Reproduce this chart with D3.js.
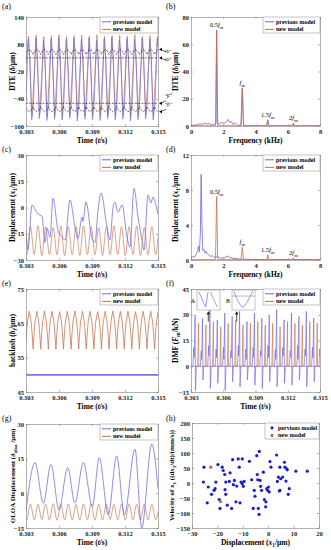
<!DOCTYPE html>
<html>
<head>
<meta charset="utf-8">
<script src="https://cdn.jsdelivr.net/npm/d3@7/dist/d3.min.js"></script>
<style>
body{margin:0;background:#fff;}
</style>
</head>
<body>
<svg id="fig" width="331" height="550"><defs></defs></svg>
<script>
'use strict';

//---- tick values
var timeTicks = [0.303,0.306,0.309,0.312,0.315];
var freqTicks = [0,2,4,6,8];
var dteTicks = [-100,-40,20,80,140];
var dteAmpTicks = [0,20,40,60,80];
var dispTicks = [-30,-15,0,15,30];
var dispAmpTicks = [0,4,8,12];
var backlashTicks = [45,55,65,75];
var dmfTicks = [-15,0,15,30,45];
var oloaTicks = [-15,0,15,30];
var phaseXTicks = [-30,-20,-10,0,10,20];
var phaseYTicks = [-150,-100,-50,0,50,100,150,200];
var seriesNames = ['previous model','new model'];

//---- harmonic labels (b) and (d)
var harmonicF = [1.59,3.18,4.76,6.35];
var harmonicPre = ['0.5','','1.5','2'];
var harmonicB = [70.5,28,4.6,2.2];
var harmonicD = [7.25,1.45,0.6,0.27];

//---- (a) DTE, time domain
var timeDtePrev = [0.30300,
 0.30320,0.30335,0.30352,0.30368, 0.30389,0.30404,0.30421,0.30437,
 0.30458,0.30473,0.30490,0.30506, 0.30527,0.30542,0.30559,0.30575,
 0.30596,0.30611,0.30628,0.30644, 0.30665,0.30680,0.30697,0.30713,
 0.30734,0.30749,0.30766,0.30782, 0.30803,0.30818,0.30835,0.30851,
 0.30872,0.30887,0.30904,0.30920, 0.30941,0.30956,0.30973,0.30989,
 0.31010,0.31025,0.31042,0.31058, 0.31079,0.31094,0.31111,0.31127,
 0.31148,0.31163,0.31180,0.31196, 0.31217,0.31232,0.31249,0.31265,
 0.31286,0.31301,0.31318,0.31334, 0.31355,0.31370,0.31387,0.31403,
 0.31424,0.31439,0.31456,0.31472, 0.31493,0.31500];
var dtePrev = [-43,
 91,53,-86,-50, 94,51,-84,-49, 89,52,-88,-51, 92,54,-85,-50,
 95,52,-87,-48, 90,50,-83,-50, 93,53,-89,-51, 91,52,-85,-49,
 94,51,-86,-50, 89,53,-88,-52, 92,52,-84,-50, 95,50,-87,-49,
 90,54,-85,-51, 93,52,-89,-50, 91,51,-86,-48, 94,53,-84,-50,
 92,52,-87,-51, 93,75];
var timeDteNew = [0.30300,
 0.30324,0.30354, 0.30393,0.30423, 0.30462,0.30492, 0.30531,0.30561,
 0.30600,0.30630, 0.30669,0.30699, 0.30738,0.30768, 0.30807,0.30837,
 0.30876,0.30906, 0.30945,0.30975, 0.31014,0.31044, 0.31083,0.31113,
 0.31152,0.31182, 0.31221,0.31251, 0.31290,0.31320, 0.31359,0.31389,
 0.31428,0.31458, 0.31497,0.31500];
var dteNew = [37,
 98,-78, 100,-77, 97,-80, 99,-78, 101,-79, 97,-76, 99,-80, 100,-78,
 98,-77, 101,-79, 97,-78, 99,-80, 100,-77, 98,-79, 101,-78, 97,-76,
 99,-80, 98,90];

//---- (e) backlash (also dashed bounds in (a))
var timeBacklash = [0.30300,0.30304,0.30313,0.30330,0.30347,0.30356,0.30365,
 0.30373,0.30382,0.30399,0.30416,0.30425,0.30434,
 0.30442,0.30451,0.30468,0.30485,0.30494,0.30503,
 0.30511,0.30520,0.30537,0.30554,0.30563,0.30572,
 0.30580,0.30589,0.30606,0.30623,0.30632,0.30641,
 0.30649,0.30658,0.30675,0.30692,0.30701,0.30710,
 0.30718,0.30727,0.30744,0.30761,0.30770,0.30779,
 0.30787,0.30796,0.30813,0.30830,0.30839,0.30848,
 0.30856,0.30865,0.30882,0.30899,0.30908,0.30917,
 0.30925,0.30934,0.30951,0.30968,0.30977,0.30986,
 0.30994,0.31003,0.31020,0.31037,0.31046,0.31055,
 0.31063,0.31072,0.31089,0.31106,0.31115,0.31124,
 0.31132,0.31141,0.31158,0.31175,0.31184,0.31193,
 0.31201,0.31210,0.31227,0.31244,0.31253,0.31262,
 0.31270,0.31279,0.31296,0.31313,0.31322,0.31331,
 0.31339,0.31348,0.31365,0.31382,0.31391,0.31400,
 0.31408,0.31417,0.31434,0.31451,0.31460,0.31469,
 0.31477,0.31486,0.31500];
var backlashNew = [59.7,61.9,65.4,68.5,65.4,61.9,57.5,
 61.9,65.4,68.5,65.4,61.9,57.5,
 61.9,65.4,68.6,65.4,61.9,57.5,
 61.9,65.4,68.5,65.4,61.9,57.5,
 61.9,65.4,68.4,65.4,61.9,57.5,
 61.9,65.4,68.5,65.4,61.9,57.5,
 61.9,65.4,68.6,65.4,61.9,57.5,
 61.9,65.4,68.5,65.4,61.9,57.5,
 61.9,65.4,68.5,65.4,61.9,57.5,
 61.9,65.4,68.4,65.4,61.9,57.5,
 61.9,65.4,68.5,65.4,61.9,57.5,
 61.9,65.4,68.6,65.4,61.9,57.5,
 61.9,65.4,68.5,65.4,61.9,57.5,
 61.9,65.4,68.5,65.4,61.9,57.5,
 61.9,65.4,68.4,65.4,61.9,57.5,
 61.9,65.4,68.5,65.4,61.9,57.5,
 61.9,65.4,68.5,65.4,61.9,57.5,
 61.9,65.4,68.4];
var timeBacklashPrev = [0.303,0.315];
var backlashPrev = [50,50];

//---- (b) DTE spectrum
var freqBPrev = [0,0.2,0.4,0.55,0.7,0.85,1.0,1.15,1.3,1.45,1.55,1.59,1.63,1.75,1.9,2.05,2.2,2.3,
 2.4,2.5,2.6,2.75,2.9,3.1,3.18,3.26,3.5,4.0,4.7,4.76,4.82,5.5,6.3,6.35,6.4,8];
var ampBPrev = [0.3,0.6,0.9,1.6,1.2,2.2,1.4,1.8,0.8,1.0,2,70.5,2,1.5,2.6,1.8,3.2,4.8,
 2.6,3.4,1.2,2.2,0.6,0.4,27,0.4,0.3,0.2,0.2,4.2,0.2,0.1,0.1,1.8,0.1,0.1];
var freqBNew = [0,1.52,1.59,1.66,3.1,3.18,3.26,4.7,4.76,4.82,6.3,6.35,6.4,8];
var ampBNew = [0.2,0.2,69,0.2,0.2,28,0.2,0.2,4.6,0.2,0.2,2.2,0.2,0.2];

//---- (c) displacement x1
var timeDispPrev = [0.30300,0.30318,0.30355,0.30400,0.30427,0.30445,0.30473,0.30491,0.30518,0.30545,
 0.30591,0.30627,0.30655,0.30700,0.30745,0.30773,0.30809,0.30818,0.30845,0.30900,
 0.30927,0.30955,0.30982,0.31036,0.31064,0.31091,0.31109,0.31136,0.31173,0.31218,
 0.31245,0.31282,0.31318,0.31355,0.31373,0.31409,0.31436,0.31455,0.31491,0.31500];
var dispPrev = [-13,-24,1.4,-3,-4.3,-5,-20,-11.7,-17,5.4,
 -13,-16.8,-18.6,4.3,-11,-17.7,-5.4,-8,3.1,-17.7,
 -20,-1.4,8.3,-11,-18.6,0,3,-2.6,1.4,-16.8,
 -22.6,11,-5.4,-18.6,-24.3,7.1,2.6,6,-1.4,-4];
var timeMesh = [0.30300,0.30306,
 0.30340,0.30375, 0.30409,0.30444, 0.30478,0.30513, 0.30547,0.30582,
 0.30616,0.30651, 0.30685,0.30720, 0.30754,0.30789, 0.30823,0.30858,
 0.30892,0.30927, 0.30961,0.30996, 0.31030,0.31065, 0.31099,0.31134,
 0.31168,0.31203, 0.31237,0.31272, 0.31306,0.31341, 0.31375,0.31410,
 0.31444,0.31479, 0.31500];
var dispNew = [-26,-27,
 -11,-27, -10.5,-27.5, -11,-27, -11.5,-27, -10.5,-27.5, -11,-27, -11,-27.5, -10.5,-27,
 -11,-27, -11.5,-27.5, -11,-27, -10.5,-27, -11,-27.5, -11,-27, -10.5,-27.5, -11.5,-27,
 -11,-27, -17];

//---- (d) displacement spectrum
var freqDPrev = [0,0.1,0.2,0.3,0.4,0.47,0.52,0.58,0.63,0.68,0.73,0.8,0.86,0.92,1.0,1.1,1.2,1.3,1.45,1.6,
 1.75,1.9,2.1,2.25,2.4,2.6,3.0,4.0,8];
var ampDPrev = [0.3,0.4,0.3,0.6,1.0,1.6,0.9,3.0,9.8,4.0,1.1,1.2,0.8,1.0,0.7,0.6,0.4,0.5,0.3,0.4,
 0.3,0.2,0.3,0.45,0.3,0.2,0.1,0.05,0.05];
var freqDNew = [0,1.52,1.59,1.66,3.1,3.18,3.26,4.7,4.76,4.82,6.3,6.35,6.4,8];
var ampDNew = [0.05,0.05,7.25,0.05,0.05,1.45,0.05,0.05,0.6,0.05,0.05,0.27,0.05,0.05];

//---- (f) dynamic mesh force
var timeDmfPrev = [0.30300,
 0.30318,0.30326,0.30330,0.30338,0.30342,0.30350, 0.30387,0.30395,0.30399,0.30407,0.30411,0.30419,
 0.30456,0.30464,0.30468,0.30476,0.30480,0.30488, 0.30525,0.30533,0.30537,0.30545,0.30549,0.30557,
 0.30594,0.30602,0.30606,0.30614,0.30618,0.30626, 0.30663,0.30671,0.30675,0.30683,0.30687,0.30695,
 0.30732,0.30740,0.30744,0.30752,0.30756,0.30764, 0.30801,0.30809,0.30813,0.30821,0.30825,0.30833,
 0.30870,0.30878,0.30882,0.30890,0.30894,0.30902, 0.30939,0.30947,0.30951,0.30959,0.30963,0.30971,
 0.31008,0.31016,0.31020,0.31028,0.31032,0.31040, 0.31077,0.31085,0.31089,0.31097,0.31101,0.31109,
 0.31146,0.31154,0.31158,0.31166,0.31170,0.31178, 0.31215,0.31223,0.31227,0.31235,0.31239,0.31247,
 0.31284,0.31292,0.31296,0.31304,0.31308,0.31316, 0.31353,0.31361,0.31365,0.31373,0.31377,0.31385,
 0.31422,0.31430,0.31434,0.31442,0.31446,0.31454, 0.31491,0.31497,0.31500];
var dmfPrev = [0,
 0,11,5,30,-14,0, 0,9,4,28,-8,0,
 0,12,6,33,-13,0, 0,10,5,27,-10,0,
 0,11,4,31,-14,0, 0,9,5,29,-9,0,
 0,12,6,32,-12,0, 0,10,4,26,-8,0,
 0,11,5,31,-11,0, 0,9,6,28,-13,0,
 0,12,5,30,-9,0, 0,10,4,33,-12,0,
 0,11,6,27,-10,0, 0,9,5,31,-11,0,
 0,12,4,29,-8,0, 0,10,6,32,-12,0,
 0,11,5,28,-9,0, 0,10,6];
var timeDmfNew = [0.30300,
 0.30362,0.30370,0.30373, 0.30431,0.30439,0.30442, 0.30500,0.30508,0.30511,
 0.30569,0.30577,0.30580, 0.30638,0.30646,0.30649, 0.30707,0.30715,0.30718,
 0.30776,0.30784,0.30787, 0.30845,0.30853,0.30856, 0.30914,0.30922,0.30925,
 0.30983,0.30991,0.30994, 0.31052,0.31060,0.31063, 0.31121,0.31129,0.31132,
 0.31190,0.31198,0.31201, 0.31259,0.31267,0.31270, 0.31328,0.31336,0.31339,
 0.31397,0.31405,0.31408, 0.31466,0.31474,0.31477, 0.31500];
var dmfNew = [0,
 0,25,0, 0,24,0, 0,26,0, 0,23,0, 0,25,0, 0,27,0,
 0,24,0, 0,25,0, 0,26,0, 0,24,0, 0,25,0, 0,23,0,
 0,26,0, 0,25,0, 0,24,0, 0,26,0, 0,25,0, 0];
// zoomed insets A and B (normalised window units)
var insetAPrevX = [0.08,0.38,0.48], insetAPrevY = [0.95,0.1,0.95];
var insetANewX = [0.58,0.88], insetANewY = [0.95,0.1];
var insetBPrevX = [0.08,0.27,0.47,0.67,0.9], insetBPrevY = [0.98,0.42,0.1,0.42,1.0];
var insetBRefX = [0,1], insetBRefY = [0.72,0.72];
var insetTimes = [0.30461,0.30725];

//---- (g) OLOA displacement
var timeOloaPrev = [0.30300,0.30382,0.30457,0.30527,0.30600,0.30679,0.30745,0.30821,0.30903,
 0.30966,0.31048,0.31124,0.31194,0.31291,0.31352,0.31443,0.31500];
var oloaPrev = [-7.9,13.4,-4.2,12.5,-7.1,11.1,-4.2,13.3,-5.7,15.4,-9.3,16.2,-9.3,19.1,-14.9,21.3,2];
var oloaNew = [-11,-11.5,
 -4.6,-11.5, -4.8,-11.3, -4.6,-11.5, -4.5,-11.6, -4.7,-11.4, -4.6,-11.5, -4.8,-11.5, -4.6,-11.4,
 -4.5,-11.6, -4.7,-11.5, -4.6,-11.3, -4.8,-11.5, -4.6,-11.6, -4.5,-11.4, -4.7,-11.5, -4.6,-11.5,
 -4.8,-11.4, -8];

//---- (h) phase portrait
var phasePrevX = [-25.3,-25.5,-23.6,-24.0,-22.3,-21.3,-20.6,-20.9,-19.8,-19.0,-19.3,-18.1,-17.7,-17.1,-16.7,
 -17.0,-16.7,-16.1,-15.0,-15.3,-14.4,-14.0,-13.7,-13.3,-12.7,-12.4,-11.4,-11.8,-11.1,-10.7,
 -10.2,-9.8,-9.5,-10.2,-7.4,-6.5,-5.9,-5.5,-5.2,-4.5,-4.3,-4.1,-3.9,-3.5,-3.6,
 -3.2,-3.0,-2.6,-1.9,-1.5,-1.0,-0.9,-0.6,-0.2,0.1,0.4,0.7,1.1,3.3,3.6,
 4.0,4.4,4.6,4.9,5.7,6.4,6.6,7.3,7.0,7.5,7.9,4.6,8.3,10.9,15.4];
var phasePrevY = [52.6,3.1,-13.4,-66.2,-37.6,-24.4,3.1,-18.9,61.4,-84.9,-55,52.6,41.6,28.4,3.1,
 -22.2,-37.6,-73.9,33.9,5.3,-84.9,77.9,-5.7,8.6,-62.9,-10.1,52.6,80.1,-66.2,3.1,
 -2.4,-11.2,5.3,80.1,72.4,10.8,-84.9,-24.4,-44.2,91.1,28.4,10.8,-84.9,105.4,-104.7,
 8.6,-11.2,-24.4,36.1,-55.2,-79.4,-62.9,-18.9,-24.4,-13.4,-29.9,71.3,52.6,93.3,5.3,
 19.6,-26.6,52.6,14.1,19.6,69.1,52.6,47.1,6.4,43.8,-37.6,-24.4,-18.9,39.4,39.4];
var phaseNewX = [-22.6,-18.8];
var phaseNewY = [52.6,-62];

//---- drawing
var svg = d3.select('#fig');
var defs = svg.select('defs');
var serif = '"Liberation Serif","Times New Roman",serif';
var colPrev = '#6a66e4';
var colNew = '#c8704a';

var zip = function(xs, ys){
	return xs.map(function(v, i){ return [v, ys[i]]; });
};

//rich text: parts are [text, style] with style containing i (italic) and/or s (subscript)
var richText = function(sel, parts, size){
	var shifted = 0;
	parts.forEach(function(p){
		var st = p[1] || '';
		var ts = sel.append('tspan').text(p[0]);
		if(st.indexOf('i') > -1){ ts.attr('font-style','italic'); }
		var target = st.indexOf('s') > -1 ? size*0.3 : 0;
		if(target !== shifted){ ts.attr('dy', target - shifted); shifted = target; }
		if(st.indexOf('s') > -1){ ts.attr('font-size', size*0.7); }
	});
};

var panel = function(o){
	var p = {o: o};
	var b = o.box;
	p.x = d3.scaleLinear().domain(o.xDom).range([b[0], b[2]]);
	p.y = d3.scaleLinear().domain(o.yDom).range([b[3], b[1]]);
	p.g = svg.append('g');
	defs.append('clipPath').attr('id','clip' + o.id)
		.append('rect').attr('x',b[0]).attr('y',b[1]).attr('width',b[2]-b[0]).attr('height',b[3]-b[1]);
	p.plot = p.g.append('g').attr('clip-path','url(#clip' + o.id + ')');
	return p;
};

var drawLine = function(p, xs, ys, col, w, curve, dash){
	var line = d3.line()
		.x(function(d){ return p.x(d[0]); })
		.y(function(d){ return p.y(d[1]); })
		.curve(curve || d3.curveLinear);
	var path = p.plot.append('path').datum(zip(xs, ys))
		.attr('d', line).attr('fill','none').attr('stroke',col)
		.attr('stroke-width',w).attr('stroke-linejoin','round');
	if(dash){ path.attr('stroke-dasharray', dash); }
	return path;
};

var styleAxis = function(sel){
	sel.attr('font-family', serif).attr('font-size', 6.5).attr('font-weight','bold');
	sel.selectAll('path,line').attr('stroke','#7d7d7d').attr('stroke-width',0.6);
	sel.selectAll('text').attr('fill','#1a1a1a');
};

var axes = function(p){
	var o = p.o, b = o.box;
	var fmt = o.xFmt || d3.format('d');
	p.g.append('g').attr('transform','translate(0,' + b[3] + ')')
		.call(d3.axisBottom(p.x).tickValues(o.xTicks).tickFormat(fmt).tickSizeInner(-2).tickSizeOuter(0).tickPadding(3.5))
		.call(styleAxis);
	p.g.append('g').attr('transform','translate(' + b[0] + ',0)')
		.call(d3.axisLeft(p.y).tickValues(o.yTicks).tickFormat(d3.format('d')).tickSizeInner(-2).tickSizeOuter(0).tickPadding(2))
		.call(styleAxis);
	p.g.append('g').attr('transform','translate(0,' + b[1] + ')')
		.call(d3.axisTop(p.x).tickValues(o.xTicks).tickFormat('').tickSizeInner(-2).tickSizeOuter(0))
		.call(styleAxis);
	p.g.append('g').attr('transform','translate(' + b[2] + ',0)')
		.call(d3.axisRight(p.y).tickValues(o.yTicks).tickFormat('').tickSizeInner(-2).tickSizeOuter(0))
		.call(styleAxis);

	//x title
	var xt = p.g.append('text').attr('x',(b[0]+b[2])/2).attr('y',b[3]+16.5)
		.attr('text-anchor','middle').attr('font-family',serif).attr('font-size',7.5).attr('font-weight','bold');
	richText(xt, o.xTitle, 7.5);

	//y title
	var size = o.yTitleSize || 7.5;
	var cy = (b[1]+b[3])/2, tx = o.yTitleX + 2.5;
	var yt = p.g.append('text').attr('x',tx).attr('y',cy)
		.attr('transform','rotate(-90,' + tx + ',' + cy + ')')
		.attr('text-anchor','middle').attr('font-family',serif).attr('font-size',size).attr('font-weight','bold');
	richText(yt, o.yTitle, size);

	//panel label
	svg.append('text').attr('x',o.labelPos[0]).attr('y',o.labelPos[1])
		.attr('font-family',serif).attr('font-size',8).text(o.label);
};

var legend = function(p, box, names, dots){
	var g = p.g.append('g');
	g.append('rect').attr('x',box[0]).attr('y',box[1]).attr('width',box[2]).attr('height',box[3])
		.attr('fill','#fff').attr('stroke','#8a8a8a').attr('stroke-width',0.5);
	[colPrev, colNew].forEach(function(c, i){
		var yy = box[1] + 4.8 + i*7.6;
		if(dots){
			g.append('circle').attr('cx',box[0]+7).attr('cy',yy).attr('r',1.6)
				.attr('fill', i === 0 ? '#1c1cd6' : '#c8642e');
		}else{
			g.append('line').attr('x1',box[0]+2).attr('x2',box[0]+11).attr('y1',yy).attr('y2',yy)
				.attr('stroke',c).attr('stroke-width',1);
		}
		g.append('text').attr('x',box[0]+13).attr('y',yy+2).attr('font-family',serif)
			.attr('font-size',6).attr('font-weight','bold').text(names[i]);
	});
};

var harmonics = function(p, heights){
	harmonicF.forEach(function(f, i){
		var t = p.g.append('text').attr('x',p.x(f)).attr('y',p.y(heights[i]) - 3)
			.attr('text-anchor','middle').attr('font-family',serif).attr('font-size',6.5);
		var parts = [];
		if(harmonicPre[i]){ parts.push([harmonicPre[i]]); }
		parts.push(['f','i']);
		parts.push(['m','s']);
		richText(t, parts, 6.5);
	});
};

var timeTitle = [['Time ('],['t','i'],['/s)']];
var freqTitle = [['Frequency (kHz)']];
var fmtTime = d3.format('.3f');
var lw = 0.65;

//---- (a)
var pa = panel({id:'a', box:[26,17,158,126], xDom:[0.303,0.315], yDom:[-100,140], xTicks:timeTicks, yTicks:dteTicks,
	xFmt:fmtTime, label:'(a)', labelPos:[2,9], xTitle:timeTitle, yTitle:[['DTE ('],['δ','i'],['/μm)']], yTitleX:12});
drawLine(pa, timeDteNew, dteNew, colNew, lw);
drawLine(pa, timeDtePrev, dtePrev, colPrev, lw);
drawLine(pa, timeBacklash, backlashNew, '#000', 0.6, null, '2,1.3');
drawLine(pa, timeBacklash, backlashNew.map(function(v){ return -v; }), '#000', 0.6, null, '2,1.3');
drawLine(pa, timeBacklashPrev, backlashPrev, '#000', 0.6, null, '2,1.3');
drawLine(pa, timeBacklashPrev, backlashPrev.map(function(v){ return -v; }), '#000', 0.6, null, '2,1.3');
axes(pa);
legend(pa, [100,17,58,16], seriesNames);
//bound markers on the right
[[68.5,[['b','i'],['t','s']],1],[50,[['b','i'],['0','s']],1],[-50,[['-'],['b','i'],['0','s']],-1],[-68.5,[['-'],['b','i'],['t','s']],-1]]
	.forEach(function(m){
		var yy = pa.y(m[0]), x0 = pa.o.box[2] + 1;
		pa.g.append('path').attr('d','M' + (x0+7) + ',' + (yy + m[2]*2.5) + 'L' + (x0+2) + ',' + yy)
			.attr('stroke','#000').attr('stroke-width',0.6);
		pa.g.append('path').attr('d','M' + x0 + ',' + yy + 'l3,-1.6l0,3.2z').attr('fill','#000');
		var lx = x0 + 9, ly = yy + m[2]*4;
		var t = pa.g.append('text').attr('x',lx).attr('y',ly).attr('transform','rotate(-65,' + lx + ',' + ly + ')')
			.attr('font-family',serif).attr('font-size',6);
		richText(t, m[1], 6);
	});

//---- (b)
var pb = panel({id:'b', box:[191,17,320,126], xDom:[0,8], yDom:[0,80], xTicks:freqTicks, yTicks:dteAmpTicks,
	label:'(b)', labelPos:[166,9], xTitle:freqTitle, yTitle:[['DTE ('],['δ','i'],['/μm)']], yTitleX:175});
drawLine(pb, freqBPrev, ampBPrev, colPrev, 0.8);
drawLine(pb, freqBNew, ampBNew, colNew, 0.8);
axes(pb);
legend(pb, [263,17,57,16], seriesNames);
harmonics(pb, harmonicB);

//---- (c)
var pc = panel({id:'c', box:[26,155,158,260], xDom:[0.303,0.315], yDom:[-30,30], xTicks:timeTicks, yTicks:dispTicks,
	xFmt:fmtTime, label:'(c)', labelPos:[2,152], xTitle:timeTitle, yTitle:[['Displacement ('],['x','i'],['1','s'],['/μm)']], yTitleX:12});
drawLine(pc, timeMesh, dispNew, colNew, lw, d3.curveMonotoneX);
drawLine(pc, timeDispPrev, dispPrev, colPrev, 0.75, d3.curveMonotoneX);
axes(pc);
legend(pc, [100,155,58,16], seriesNames);

//---- (d)
var pd = panel({id:'d', box:[191,155,320,260], xDom:[0,8], yDom:[0,12], xTicks:freqTicks, yTicks:dispAmpTicks,
	label:'(d)', labelPos:[166,152], xTitle:freqTitle, yTitle:[['Displacement ('],['x','i'],['1','s'],['/μm)']], yTitleX:175});
drawLine(pd, freqDPrev, ampDPrev, colPrev, 0.8);
drawLine(pd, freqDNew, ampDNew, colNew, 0.8);
axes(pd);
legend(pd, [263,155,57,16], seriesNames);
harmonics(pd, harmonicD);

//---- (e)
var pe = panel({id:'e', box:[26,289,158,392], xDom:[0.303,0.315], yDom:[45,75], xTicks:timeTicks, yTicks:backlashTicks,
	xFmt:fmtTime, label:'(e)', labelPos:[2,286], xTitle:timeTitle, yTitle:[['backlash ('],['b','i'],['t','is'],['/μm)']], yTitleX:12});
drawLine(pe, timeBacklashPrev, backlashPrev, '#7474f0', 1.8);
drawLine(pe, timeBacklash, backlashNew, colNew, 0.75);
axes(pe);
legend(pe, [100,289,58,16], seriesNames);

//---- (f)
var pf = panel({id:'f', box:[191,289,320,392], xDom:[0.303,0.315], yDom:[-15,45], xTicks:timeTicks, yTicks:dmfTicks,
	xFmt:fmtTime, label:'(f)', labelPos:[166,286], xTitle:timeTitle, yTitle:[['DMF ('],['F','i'],['m','s'],['/kN)']], yTitleX:175});
drawLine(pf, timeDmfNew, dmfNew, colNew, lw);
drawLine(pf, timeDmfPrev, dmfPrev, colPrev, lw);
axes(pf);
legend(pf, [263,289,57,16], seriesNames);
//insets A and B
[[197,'A',[[insetAPrevX,insetAPrevY,colPrev],[insetANewX,insetANewY,colNew]]],
 [232,'B',[[insetBRefX,insetBRefY,'#999'],[insetBPrevX,insetBPrevY,colPrev]]]].forEach(function(ins, k){
	var ix = d3.scaleLinear().domain([0,1]).range([ins[0], ins[0]+23]);
	var iy = d3.scaleLinear().domain([0,1]).range([309, 291]);
	pf.g.append('rect').attr('x',ins[0]).attr('y',290).attr('width',23).attr('height',20)
		.attr('fill','#fff').attr('stroke','#8a8a8a').attr('stroke-width',0.5);
	ins[2].forEach(function(s){
		pf.g.append('path').datum(zip(s[0], s[1]))
			.attr('d', d3.line().x(function(d){ return ix(d[0]); }).y(function(d){ return iy(d[1]); })
				.curve(s[0].length > 3 ? d3.curveMonotoneX : d3.curveLinear))
			.attr('fill','none').attr('stroke',s[2]).attr('stroke-width',0.7);
	});
	pf.g.append('text').attr('x',ins[0]-4).attr('y',303).attr('text-anchor','middle')
		.attr('font-family',serif).attr('font-size',6).text(ins[1]);
	var ax = pf.x(insetTimes[k]);
	pf.g.append('line').attr('x1',ax).attr('x2',ax).attr('y1',pf.y(26)).attr('y2',pf.y(30))
		.attr('stroke','#000').attr('stroke-width',0.7);
	pf.g.append('path').attr('d','M' + ax + ',' + pf.y(32) + 'l-1.6,3.2l3.2,0z').attr('fill','#000');
});

//---- (g)
var pg = panel({id:'g', box:[26,424,158,528], xDom:[0.303,0.315], yDom:[-15,30], xTicks:timeTicks, yTicks:oloaTicks,
	xFmt:fmtTime, label:'(g)', labelPos:[2,421], xTitle:timeTitle, yTitleSize:7,
	yTitle:[['OLOA Displacement ('],['δ','i'],['oloa','s'],[' /μm)']], yTitleX:12});
drawLine(pg, timeMesh, oloaNew, colNew, lw, d3.curveMonotoneX);
drawLine(pg, timeOloaPrev, oloaPrev, colPrev, 0.75, d3.curveMonotoneX);
axes(pg);
legend(pg, [100,424,58,16], seriesNames);

//---- (h)
var ph = panel({id:'h', box:[192,423,319,528], xDom:[-30,20], yDom:[-150,200], xTicks:phaseXTicks, yTicks:phaseYTicks,
	label:'(h)', labelPos:[166,421], xTitle:[['Displacement ('],['x','i'],['1','s'],['/μm)']], yTitleSize:7,
	yTitle:[['Velocity of '],['x','i'],['1','s'],[' ((d'],['x','i'],['1','s'],['/dt)/(mm/s))']], yTitleX:171});
ph.plot.selectAll('circle.prev').data(zip(phasePrevX, phasePrevY)).enter().append('circle')
	.attr('cx',function(d){ return ph.x(d[0]); }).attr('cy',function(d){ return ph.y(d[1]); })
	.attr('r',1.6).attr('fill','#1c1cd6');
ph.plot.selectAll('circle.new').data(zip(phaseNewX, phaseNewY)).enter().append('circle')
	.attr('cx',function(d){ return ph.x(d[0]); }).attr('cy',function(d){ return ph.y(d[1]); })
	.attr('r',1.6).attr('fill','#c8642e');
axes(ph);
legend(ph, [265,423,54,16], ['pervious model','new model'], true);
</script>
</body>
</html>
